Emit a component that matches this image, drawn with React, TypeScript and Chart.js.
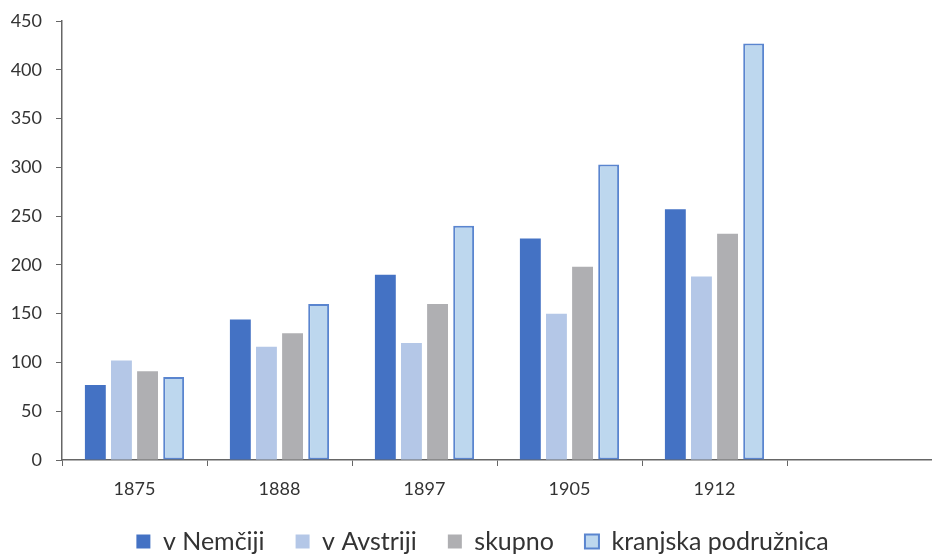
import React, { useEffect, useRef } from "react";
import { Chart, registerables } from "chart.js";

Chart.register(...registerables);

const categories = ["1875", "1888", "1897", "1905", "1912", ""];
const vNemciji = [77, 144, 190, 227, 257, null];
const vAvstriji = [102, 116, 120, 150, 188, null];
const skupno = [91, 130, 160, 198, 232, null];
const kranjska = [85, 160, 240, 303, 427, null];
const yMin = 0;
const yMax = 450;
const yStep = 50;

const FONT = "Lato, 'Noto Sans', sans-serif";
const TEXT = "#333333";
const AXIS = "#666666";

const legendShift = {
  id: "legendShift",
  afterLayout(chart: any) {
    if (chart.legend) {
      chart.legend.left += 33;
    }
  },
};

export default function App() {
  const ref = useRef<HTMLCanvasElement | null>(null);

  useEffect(() => {
    if (!ref.current) return;
    const chart = new Chart(ref.current, {
      type: "bar",
      data: {
        labels: categories,
        datasets: [
          { label: "v Nemčiji", data: vNemciji, backgroundColor: "#4472C4", borderWidth: 0 },
          { label: "v Avstriji", data: vAvstriji, backgroundColor: "#B4C7E7", borderWidth: 0 },
          { label: "skupno", data: skupno, backgroundColor: "#AFAFB2", borderWidth: 0 },
          {
            label: "kranjska podružnica",
            data: kranjska,
            backgroundColor: "#BDD7EE",
            borderColor: "#5A85CF",
            borderWidth: 2,
            borderSkipped: false,
          },
        ],
      },
      options: {
        responsive: false,
        animation: false,
        datasets: { bar: { categoryPercentage: 0.72, barPercentage: 0.8 } },
        layout: { padding: { top: 0, left: 0, right: 0, bottom: -10 } },
        plugins: {
          tooltip: { enabled: false },
          legend: {
            position: "bottom",
            labels: {
              font: { family: FONT, size: 25 },
              color: TEXT,
              boxWidth: 14,
              boxHeight: 14,
              padding: 31,
            },
          },
        },
        scales: {
          x: {
            offset: true,
            grid: {
              offset: true,
              drawOnChartArea: false,
              drawTicks: true,
              tickLength: 6,
              color: AXIS,
            },
            border: { display: true, color: AXIS, width: 1.5 },
            ticks: { font: { family: FONT, size: 18 }, color: TEXT, padding: 12 },
            afterFit: (s: any) => {
              s.height = 38;
            },
          },
          y: {
            min: yMin,
            max: yMax,
            ticks: { stepSize: yStep, font: { family: FONT, size: 18 }, color: TEXT, padding: 14 },
            grid: { drawOnChartArea: false, drawTicks: true, tickLength: 6, color: AXIS },
            border: { display: true, color: AXIS, width: 1.5 },
            afterFit: (s: any) => {
              s.width = 62;
              s.paddingTop = 21;
            },
          },
        },
      },
      plugins: [legendShift],
    });
    return () => chart.destroy();
  }, []);

  return (
    <div style={{ position: "absolute", left: 0, top: 0, width: 932, height: 554, background: "#fff" }}>
      <canvas ref={ref} width={932} height={554} />
    </div>
  );
}
